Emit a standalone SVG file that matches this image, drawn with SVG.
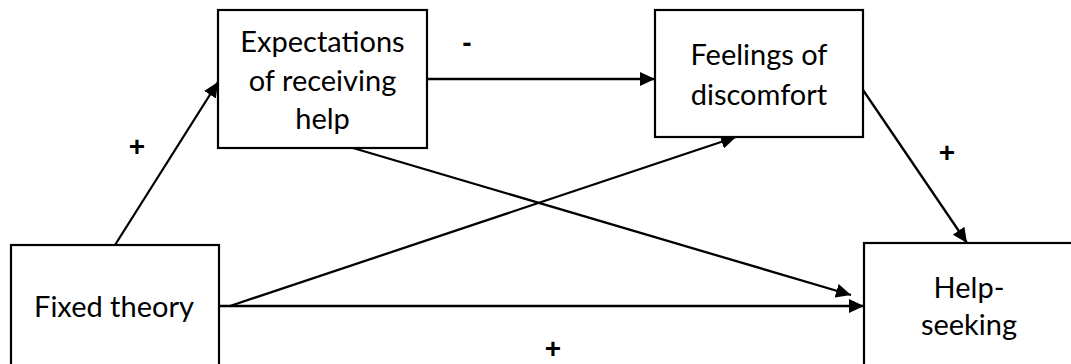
<svg xmlns="http://www.w3.org/2000/svg" width="1071" height="364" viewBox="0 0 1071 364">
<style>
.box{fill:#fff;stroke:#000;stroke-width:2.2}
.t{font-family:Lato,"Liberation Sans",sans-serif;font-size:29px;fill:#000;text-anchor:middle}
.s{font-family:"Liberation Sans",sans-serif;font-weight:bold;font-size:28px;fill:#000;text-anchor:middle}
.c{stroke:#000;stroke-width:2.3;fill:none;marker-end:url(#ah)}
</style>
<defs>
<marker id="ah" markerUnits="userSpaceOnUse" markerWidth="16" markerHeight="14" refX="15" refY="7" orient="auto">
<path d="M0,0 L15,7 L0,14 Z" fill="#000"/>
</marker>
</defs>
<rect width="1071" height="364" fill="#fff"/>
<g id="connectors">
<line class="c" x1="115" y1="245" x2="218" y2="82"/>
<line class="c" x1="427" y1="79" x2="655" y2="79"/>
<line class="c" x1="353" y1="148" x2="851" y2="295"/>
<line class="c" x1="230" y1="306" x2="736" y2="137"/>
<line class="c" x1="219" y1="306" x2="864" y2="306"/>
<line class="c" x1="863" y1="90" x2="967" y2="243"/>
</g>
<g id="labels">
<text class="s" x="137" y="156">+</text>
<text class="s" x="467" y="52">-</text>
<text class="s" x="947" y="162">+</text>
<text class="s" x="553" y="358">+</text>
</g>
<g id="expectations">
<rect class="box" x="218" y="10" width="209" height="138"/>
<text class="t" x="322.5" y="52">Expectations</text>
<text class="t" x="322.5" y="91">of receiving</text>
<text class="t" x="322.5" y="129">help</text>
</g>
<g id="feelings">
<rect class="box" x="655" y="10" width="208" height="127"/>
<text class="t" x="759" y="65">Feelings of</text>
<text class="t" x="759" y="105">discomfort</text>
</g>
<g id="fixed">
<rect class="box" x="11" y="245" width="208" height="130"/>
<text class="t" x="114" y="317">Fixed theory</text>
</g>
<g id="helpseeking">
<rect class="box" x="864" y="243" width="220" height="130"/>
<text class="t" x="969" y="298">Help-</text>
<text class="t" x="969" y="335">seeking</text>
</g>
</svg>
